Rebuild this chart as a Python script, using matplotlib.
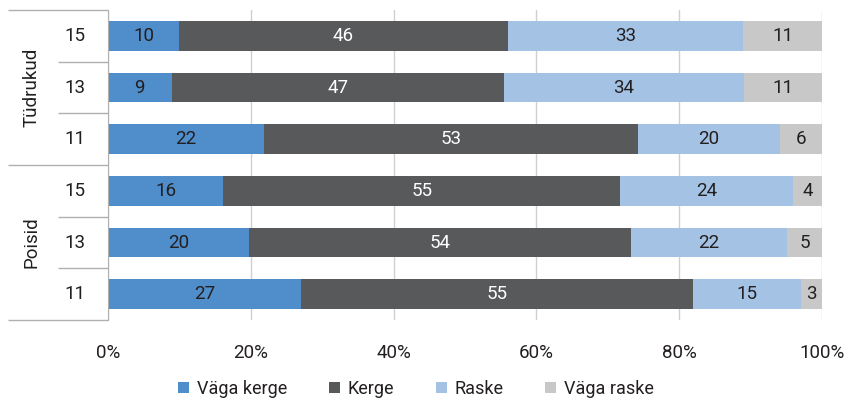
import matplotlib

matplotlib.use("Agg")
import matplotlib.pyplot as plt
from matplotlib.lines import Line2D
import numpy as np

# data (rows from top to bottom)
groups = ["Tüdrukud", "Poisid"]
ages = ["15", "13", "11", "15", "13", "11"]
series = ["Väga kerge", "Kerge", "Raske", "Väga raske"]
vaga_kerge = [10, 9, 22, 16, 20, 27]
kerge = [46, 47, 53, 55, 54, 55]
raske = [33, 34, 20, 24, 22, 15]
vaga_raske = [11, 11, 6, 4, 5, 3]

colors = ["#4f8dcb", "#58595b", "#a4c2e4", "#c8c8c8"]
text_colors = ["#231f20", "#ffffff", "#231f20", "#231f20"]

plt.rcParams["font.family"] = ["Roboto", "DejaVu Sans"]

W, H = 849, 403
fig = plt.figure(figsize=(W / 100, H / 100), dpi=100)
ax = fig.add_axes([108 / W, 1 - 320 / H, 714 / W, 310 / H])

vals = np.array([vaga_kerge, kerge, raske, vaga_raske], dtype=float)
shares = vals / vals.sum(axis=0) * 100
y = np.arange(len(ages))

left = np.zeros(len(ages))
for i, name in enumerate(series):
    ax.barh(y, shares[i], left=left, height=0.57, color=colors[i], label=name, zorder=3)
    for yi, l, w, v in zip(y, left, shares[i], vals[i]):
        ax.text(l + w / 2, yi, f"{int(v)}", ha="center", va="center",
                fontsize=13.5, color=text_colors[i], zorder=4)
    left += shares[i]

ax.set_ylim(len(ages) - 0.5, -0.5)
ax.set_xlim(0, 100)
ax.set_xticks(np.arange(0, 101, 20))
ax.set_xticklabels([f"{t}%" for t in range(0, 101, 20)])
ax.tick_params(axis="x", length=0, labelsize=13.5, colors="#231f20", pad=17)
ax.set_yticks([])
ax.grid(axis="x", color="#d0d0d0", linewidth=1, zorder=0)
for s in ["top", "right", "bottom"]:
    ax.spines[s].set_visible(False)
ax.spines["left"].set_color("#b0b0b0")
ax.spines["left"].set_zorder(5)

# category labels
trans = ax.get_yaxis_transform()
for yi, a in zip(y, ages):
    ax.text(-33 / 714, yi, a, transform=trans, ha="center", va="center",
            fontsize=13.5, color="#231f20", clip_on=False)
for g, c in zip(groups, [1, 4]):
    ax.text(-76 / 714, c, g, transform=trans, rotation=90, ha="center", va="center",
            fontsize=13.5, color="#231f20", clip_on=False)

# separator lines in figure pixels
row_h = 310 / 6
for k in range(7):
    yy = 10 + k * row_h
    x0 = 8 if k % 3 == 0 else 58
    fig.add_artist(Line2D([x0 / W, 108 / W], [1 - yy / H, 1 - yy / H],
                          color="#b0b0b0", linewidth=1, solid_capstyle="butt"))

leg = fig.legend(loc="center", bbox_to_anchor=(416 / W, 1 - 389 / H), ncol=4,
                 frameon=False, fontsize=13, handlelength=0.6, handleheight=0.6,
                 handletextpad=0.45, columnspacing=2.3)
for t in leg.get_texts():
    t.set_color("#231f20")

fig.savefig("out.png", dpi=100)
